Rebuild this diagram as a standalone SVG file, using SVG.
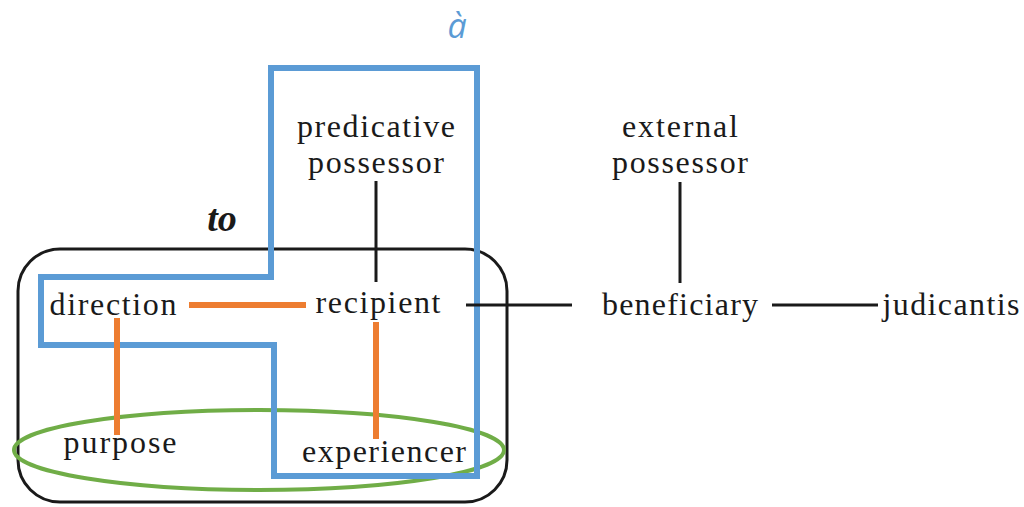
<svg xmlns="http://www.w3.org/2000/svg" width="1024" height="507" viewBox="0 0 1024 507">
  <style>
    .lbl { font-family: "Liberation Serif", "Times New Roman", serif; font-size: 32px; fill: #1a1a1a; text-anchor: middle; }
    .blk { stroke: #1a1a1a; stroke-width: 3; fill: none; }
    .org { stroke: #ed7d31; stroke-width: 6; fill: none; }
  </style>
  <rect width="1024" height="507" fill="#ffffff"/>

  <!-- "to" region -->
  <g id="to-region">
    <rect x="18" y="249" width="489" height="253" rx="42" ry="42" class="blk"/>
    <text x="222" y="231" font-family="Liberation Serif, serif" font-size="38" font-weight="bold" font-style="italic" fill="#1a1a1a" text-anchor="middle">to</text>
  </g>

  <!-- green ellipse group -->
  <g id="green-group">
    <ellipse cx="259" cy="450" rx="245" ry="40" fill="none" stroke="#70ad47" stroke-width="4"/>
  </g>

  <!-- "à" region -->
  <g id="a-region">
    <path d="M271,68 H477 V476 H274 V345 H41 V277 H271 Z" fill="none" stroke="#5b9bd5" stroke-width="6" stroke-linejoin="miter"/>
    <text x="457" y="38" font-family="Open Sans, Liberation Sans, sans-serif" font-size="34" font-style="italic" fill="#5b9bd5" text-anchor="middle">à</text>
  </g>

  <!-- connectors -->
  <g id="connectors">
    <line x1="376" y1="181" x2="376" y2="282" class="blk"/>
    <line x1="680" y1="182" x2="680" y2="283" class="blk"/>
    <line x1="466" y1="305" x2="572" y2="305" class="blk"/>
    <line x1="772" y1="305" x2="878" y2="305" class="blk"/>
    <line x1="189" y1="305" x2="306" y2="305" class="org"/>
    <line x1="117" y1="318" x2="117" y2="435" class="org"/>
    <line x1="376" y1="322" x2="376" y2="439" class="org"/>
  </g>

  <!-- nodes -->
  <g id="node-predicative-possessor">
    <text class="lbl" x="376" y="137" textLength="158" lengthAdjust="spacing">predicative</text>
    <text class="lbl" x="376" y="173" textLength="136" lengthAdjust="spacing">possessor</text>
  </g>
  <g id="node-external-possessor">
    <text class="lbl" x="680" y="137" textLength="116" lengthAdjust="spacing">external</text>
    <text class="lbl" x="680" y="173" textLength="136" lengthAdjust="spacing">possessor</text>
  </g>
  <g id="node-direction">
    <text class="lbl" x="113" y="315" textLength="127" lengthAdjust="spacing">direction</text>
  </g>
  <g id="node-recipient">
    <text class="lbl" x="378" y="313" textLength="125" lengthAdjust="spacing">recipient</text>
  </g>
  <g id="node-beneficiary">
    <text class="lbl" x="680" y="315" textLength="156" lengthAdjust="spacing">beneficiary</text>
  </g>
  <g id="node-judicantis">
    <text class="lbl" x="951" y="315" textLength="137" lengthAdjust="spacing">judicantis</text>
  </g>
  <g id="node-purpose">
    <text class="lbl" x="120" y="453" textLength="113" lengthAdjust="spacing">purpose</text>
  </g>
  <g id="node-experiencer">
    <text class="lbl" x="384" y="462" textLength="164" lengthAdjust="spacing">experiencer</text>
  </g>
</svg>
